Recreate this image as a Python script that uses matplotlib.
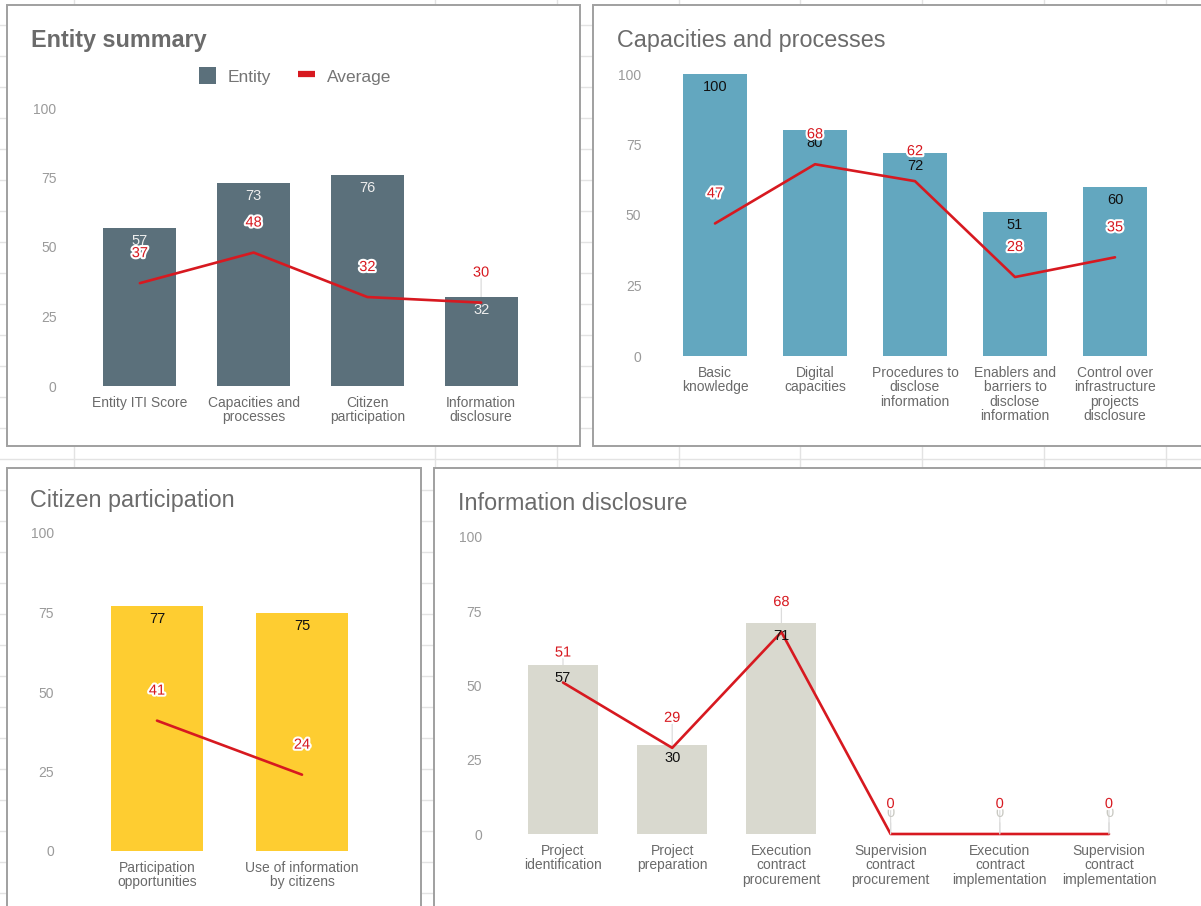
import numpy as np
import matplotlib
matplotlib.use("Agg")
import matplotlib.pyplot as plt
import matplotlib.patheffects as pe
from matplotlib.patches import Rectangle, Patch
from matplotlib.lines import Line2D

plt.rcParams["font.family"] = ["Liberation Sans", "DejaVu Sans"]

W, H = 1201, 906

# ---- data ----
summary_cats = ["Entity ITI Score", "Capacities and\nprocesses",
                "Citizen\nparticipation", "Information\ndisclosure"]
summary_entity = [57, 73, 76, 32]
summary_avg = [37, 48, 32, 30]

capac_cats = ["Basic\nknowledge", "Digital\ncapacities",
              "Procedures to\ndisclose\ninformation",
              "Enablers and\nbarriers to\ndisclose\ninformation",
              "Control over\ninfrastructure\nprojects\ndisclosure"]
capac_entity = [100, 80, 72, 51, 60]
capac_avg = [47, 68, 62, 28, 35]

citizen_cats = ["Participation\nopportunities", "Use of information\nby citizens"]
citizen_entity = [77, 75]
citizen_avg = [41, 24]

disclosure_cats = ["Project\nidentification", "Project\npreparation",
                   "Execution\ncontract\nprocurement",
                   "Supervision\ncontract\nprocurement",
                   "Execution\ncontract\nimplementation",
                   "Supervision\ncontract\nimplementation"]
disclosure_entity = [57, 30, 71, 0, 0, 0]
disclosure_avg = [51, 29, 68, 0, 0, 0]

y_ticks = [0, 25, 50, 75, 100]

RED = "#d71920"
TITLE_C = "#6b6b6b"
TICK_C = "#9a9a9a"
CAT_C = "#6a6a6a"
GRID_C = "#e3e3e3"
BORDER_C = "#a0a0a0"
STEM_C = "#dcdcdc"

fig = plt.figure(figsize=(W / 100, H / 100), dpi=100)
fig.patch.set_facecolor("white")

# sheet background: cell grid + chart frames (pixel coordinates)
bg = fig.add_axes([0, 0, 1, 1])
bg.set_xlim(0, W)
bg.set_ylim(H, 0)
bg.axis("off")
for yy in range(25, H, 31):
    bg.axhline(yy, color=GRID_C, lw=1.0, zorder=0)
for xx in [74, 435, 557, 679, 800, 922, 1044, 1166]:
    bg.axvline(xx, color=GRID_C, lw=1.0, zorder=0)

frames = [(7, 5, 580, 446), (593, 5, 1215, 446),
          (7, 468, 421, 920), (434, 468, 1215, 920)]
for x0, y0, x1, y1 in frames:
    bg.add_patch(Rectangle((x0, y0), x1 - x0, y1 - y0, facecolor="white",
                           edgecolor=BORDER_C, lw=1.4, zorder=1))

bg.text(31, 41, "Entity summary", fontsize=16.8, fontweight="bold",
        color=TITLE_C, va="center", ha="left", zorder=2)
bg.text(617, 41, "Capacities and processes", fontsize=16.8,
        color=TITLE_C, va="center", ha="left", zorder=2)
bg.text(30, 501, "Citizen participation", fontsize=16.8,
        color=TITLE_C, va="center", ha="left", zorder=2)
bg.text(458, 503, "Information disclosure", fontsize=16.8,
        color=TITLE_C, va="center", ha="left", zorder=2)


def px_axes(left, top, right, bottom):
    return fig.add_axes([left / W, 1 - bottom / H, (right - left) / W, (bottom - top) / H])


halo = [pe.withStroke(linewidth=3, foreground="white")]


def draw_chart(box, cats, entity, avg, bar_color, ent_color, tick_pad):
    ax = px_axes(*box)
    ax.set_facecolor("none")
    x = np.arange(len(cats))
    ax.bar(x, entity, width=0.64, color=bar_color, zorder=2)
    ax.plot(x, avg, color=RED, lw=1.9, zorder=3, clip_on=False,
            solid_joinstyle="round", solid_capstyle="round")

    # entity values: inside the bar top, or lifted on a stem when zero
    for i, v in enumerate(entity):
        if v > 0:
            ax.annotate(str(v), xy=(i, v), xytext=(0, -6), textcoords="offset pixels",
                        ha="center", va="top", fontsize=10.5, color=ent_color, zorder=4)
        else:
            ax.annotate(str(v), xy=(i, v), xytext=(0, 21), textcoords="offset pixels",
                        ha="center", va="center", fontsize=10.5, color="#c9c9c2", zorder=4,
                        arrowprops=dict(arrowstyle="-", color=STEM_C, lw=0.9,
                                        shrinkA=0, shrinkB=0))

    # average values: stem behind the bars, label on top with white halo
    for i, a in enumerate(avg):
        ax.annotate("", xy=(i, a), xytext=(0, 24), textcoords="offset pixels",
                    zorder=1, arrowprops=dict(arrowstyle="-", color=STEM_C, lw=0.9,
                                              shrinkA=0, shrinkB=0))
        ax.annotate(str(a), xy=(i, a), xytext=(0, 30), textcoords="offset pixels",
                    ha="center", va="center", fontsize=10.5, color=RED, zorder=5,
                    path_effects=halo)

    ax.set_xlim(-0.5, len(cats) - 0.5)
    ax.set_ylim(0, 100)
    ax.set_yticks(y_ticks)
    ax.set_yticklabels([str(t) for t in y_ticks])
    ax.set_xticks(x)
    ax.set_xticklabels(cats, linespacing=1.05)
    ax.tick_params(axis="y", length=0, pad=tick_pad, labelsize=10, labelcolor=TICK_C)
    ax.tick_params(axis="x", length=0, pad=7, labelsize=10, labelcolor=CAT_C)
    for s in ax.spines.values():
        s.set_visible(False)
    return ax


draw_chart((83, 108, 538, 386), summary_cats, summary_entity, summary_avg,
           "#5b707b", "#eeeeee", 19)
draw_chart((665, 74, 1165, 356), capac_cats, capac_entity, capac_avg,
           "#63a7bf", "#111111", 17)
draw_chart((84.5, 533, 374.5, 851), citizen_cats, citizen_entity, citizen_avg,
           "#fecd31", "#111111", 22)
draw_chart((508.4, 537, 1163.6, 834), disclosure_cats, disclosure_entity, disclosure_avg,
           "#d9d9cf", "#111111", 19)

# legend for the summary chart
handles = [Patch(facecolor="#5b707b", edgecolor="none"),
           Line2D([0], [0], color=RED, lw=4.5, solid_capstyle="butt")]
fig.legend(handles=handles, labels=["Entity", "Average"], ncol=2, frameon=False,
           loc="center", bbox_to_anchor=(295 / W, 1 - 76 / H), fontsize=12.5,
           labelcolor="#757575", handlelength=1.0, handleheight=1.1,
           handletextpad=0.7, columnspacing=1.5)

fig.savefig("out.png", dpi=100)
